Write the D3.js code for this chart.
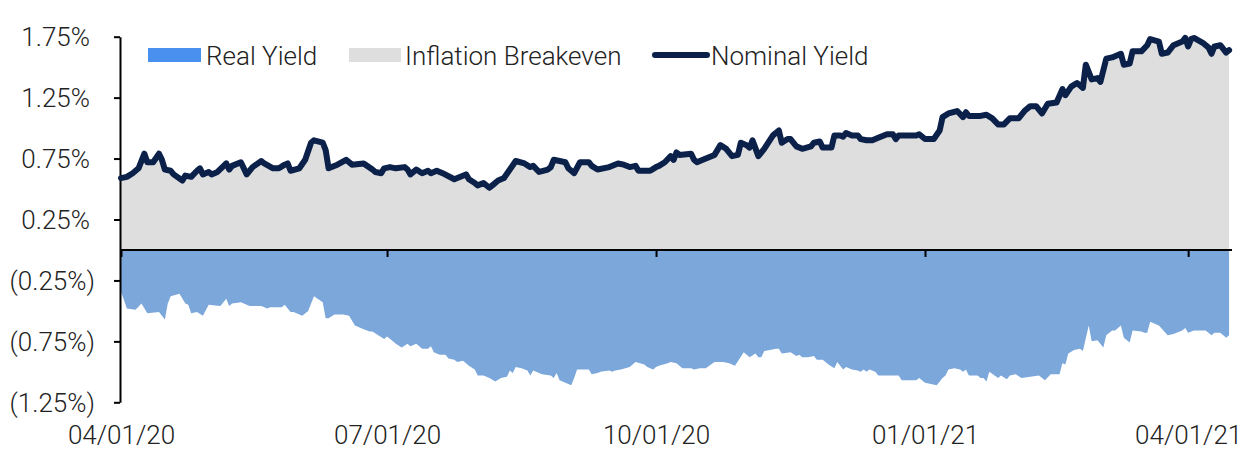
<!DOCTYPE html>
<html>
<head>
<meta charset="utf-8">
<script src="https://cdn.jsdelivr.net/npm/d3@7"></script>
<style>
  html, body { margin: 0; padding: 0; background: #fff; }
  svg { display: block; }
  text { font-family: Roboto, "Open Sans", sans-serif; font-weight: 300; fill: #222; }
</style>
</head>
<body>
<svg id="chart" width="1245" height="449"></svg>
<script>
// ---- data ----
const nominalDates = ["2020-04-01","2020-04-03","2020-04-05","2020-04-07","2020-04-09","2020-04-10","2020-04-12","2020-04-14","2020-04-15","2020-04-16","2020-04-18","2020-04-19","2020-04-22","2020-04-23","2020-04-25","2020-04-27","2020-04-28","2020-04-29","2020-05-01","2020-05-02","2020-05-04","2020-05-07","2020-05-08","2020-05-09","2020-05-12","2020-05-14","2020-05-16","2020-05-19","2020-05-20","2020-05-23","2020-05-25","2020-05-27","2020-05-28","2020-05-29","2020-06-01","2020-06-03","2020-06-05","2020-06-06","2020-06-09","2020-06-10","2020-06-11","2020-06-14","2020-06-17","2020-06-19","2020-06-23","2020-06-26","2020-06-27","2020-06-29","2020-06-30","2020-07-02","2020-07-04","2020-07-07","2020-07-08","2020-07-09","2020-07-11","2020-07-13","2020-07-15","2020-07-16","2020-07-18","2020-07-20","2020-07-24","2020-07-28","2020-07-29","2020-07-31","2020-08-01","2020-08-03","2020-08-05","2020-08-06","2020-08-08","2020-08-10","2020-08-14","2020-08-17","2020-08-19","2020-08-20","2020-08-22","2020-08-25","2020-08-26","2020-08-27","2020-08-29","2020-08-31","2020-09-01","2020-09-03","2020-09-05","2020-09-08","2020-09-09","2020-09-11","2020-09-15","2020-09-18","2020-09-20","2020-09-22","2020-09-24","2020-09-25","2020-09-29","2020-10-01","2020-10-02","2020-10-04","2020-10-06","2020-10-07","2020-10-08","2020-10-09","2020-10-13","2020-10-14","2020-10-15","2020-10-17","2020-10-21","2020-10-23","2020-10-25","2020-10-27","2020-10-29","2020-10-30","2020-11-01","2020-11-02","2020-11-03","2020-11-05","2020-11-07","2020-11-10","2020-11-12","2020-11-13","2020-11-15","2020-11-16","2020-11-18","2020-11-20","2020-11-23","2020-11-24","2020-11-26","2020-11-27","2020-11-30","2020-12-01","2020-12-03","2020-12-04","2020-12-05","2020-12-07","2020-12-09","2020-12-10","2020-12-12","2020-12-14","2020-12-16","2020-12-19","2020-12-21","2020-12-22","2020-12-23","2020-12-29","2020-12-30","2021-01-01","2021-01-04","2021-01-06","2021-01-07","2021-01-09","2021-01-12","2021-01-14","2021-01-15","2021-01-16","2021-01-20","2021-01-22","2021-01-24","2021-01-26","2021-01-28","2021-01-30","2021-02-02","2021-02-04","2021-02-06","2021-02-08","2021-02-10","2021-02-12","2021-02-15","2021-02-17","2021-02-18","2021-02-20","2021-02-22","2021-02-24","2021-02-25","2021-02-27","2021-03-01","2021-03-02","2021-03-04","2021-03-06","2021-03-09","2021-03-10","2021-03-12","2021-03-13","2021-03-16","2021-03-18","2021-03-19","2021-03-22","2021-03-23","2021-03-25","2021-03-27","2021-03-30","2021-03-31","2021-04-01","2021-04-02","2021-04-03","2021-04-06","2021-04-08","2021-04-09","2021-04-10","2021-04-12","2021-04-14","2021-04-15"];
const nominalValues = [0.59,0.60,0.63,0.67,0.79,0.72,0.72,0.79,0.74,0.66,0.65,0.62,0.57,0.61,0.60,0.65,0.67,0.62,0.64,0.62,0.64,0.71,0.66,0.69,0.72,0.62,0.68,0.73,0.71,0.67,0.67,0.70,0.71,0.65,0.67,0.74,0.88,0.90,0.88,0.82,0.67,0.70,0.74,0.70,0.71,0.66,0.64,0.63,0.67,0.68,0.67,0.68,0.66,0.62,0.66,0.63,0.65,0.63,0.65,0.63,0.58,0.62,0.58,0.55,0.53,0.55,0.51,0.53,0.57,0.59,0.73,0.71,0.68,0.69,0.64,0.66,0.68,0.74,0.73,0.72,0.67,0.63,0.72,0.72,0.69,0.66,0.68,0.71,0.70,0.68,0.69,0.65,0.65,0.68,0.69,0.72,0.77,0.74,0.80,0.78,0.79,0.74,0.72,0.74,0.78,0.86,0.83,0.77,0.78,0.88,0.86,0.84,0.90,0.77,0.83,0.94,0.98,0.88,0.91,0.91,0.85,0.83,0.85,0.88,0.89,0.84,0.84,0.94,0.94,0.93,0.96,0.94,0.94,0.91,0.90,0.90,0.92,0.95,0.95,0.91,0.94,0.94,0.95,0.91,0.91,0.98,1.09,1.12,1.14,1.09,1.13,1.10,1.10,1.11,1.08,1.03,1.03,1.08,1.08,1.14,1.18,1.18,1.12,1.20,1.21,1.32,1.27,1.34,1.37,1.33,1.52,1.40,1.41,1.38,1.57,1.58,1.61,1.52,1.53,1.63,1.63,1.68,1.73,1.71,1.61,1.62,1.68,1.71,1.74,1.67,1.73,1.74,1.70,1.66,1.61,1.67,1.68,1.62,1.64];

const realDates = ["2020-04-01","2020-04-03","2020-04-06","2020-04-08","2020-04-10","2020-04-14","2020-04-16","2020-04-17","2020-04-18","2020-04-21","2020-04-23","2020-04-24","2020-04-25","2020-04-27","2020-04-29","2020-05-01","2020-05-05","2020-05-07","2020-05-08","2020-05-09","2020-05-12","2020-05-15","2020-05-19","2020-05-21","2020-05-22","2020-05-26","2020-05-27","2020-05-29","2020-05-30","2020-06-02","2020-06-04","2020-06-06","2020-06-09","2020-06-10","2020-06-11","2020-06-13","2020-06-16","2020-06-18","2020-06-20","2020-06-23","2020-06-25","2020-06-26","2020-06-28","2020-06-30","2020-07-01","2020-07-03","2020-07-04","2020-07-06","2020-07-08","2020-07-09","2020-07-11","2020-07-13","2020-07-15","2020-07-16","2020-07-17","2020-07-19","2020-07-21","2020-07-22","2020-07-24","2020-07-25","2020-07-27","2020-07-29","2020-07-31","2020-08-01","2020-08-03","2020-08-05","2020-08-07","2020-08-09","2020-08-11","2020-08-12","2020-08-13","2020-08-14","2020-08-16","2020-08-18","2020-08-19","2020-08-20","2020-08-21","2020-08-23","2020-08-26","2020-08-27","2020-08-28","2020-08-29","2020-08-30","2020-09-02","2020-09-03","2020-09-04","2020-09-08","2020-09-09","2020-09-11","2020-09-12","2020-09-15","2020-09-16","2020-09-17","2020-09-19","2020-09-22","2020-09-24","2020-09-27","2020-09-28","2020-09-30","2020-10-01","2020-10-02","2020-10-05","2020-10-06","2020-10-08","2020-10-10","2020-10-13","2020-10-14","2020-10-16","2020-10-18","2020-10-21","2020-10-24","2020-10-26","2020-10-28","2020-10-31","2020-11-02","2020-11-04","2020-11-05","2020-11-06","2020-11-07","2020-11-09","2020-11-11","2020-11-12","2020-11-13","2020-11-16","2020-11-18","2020-11-19","2020-11-20","2020-11-22","2020-11-24","2020-11-25","2020-11-27","2020-11-29","2020-12-01","2020-12-02","2020-12-04","2020-12-05","2020-12-07","2020-12-09","2020-12-10","2020-12-11","2020-12-12","2020-12-13","2020-12-15","2020-12-16","2020-12-23","2020-12-24","2020-12-29","2020-12-30","2021-01-01","2021-01-03","2021-01-05","2021-01-07","2021-01-08","2021-01-09","2021-01-11","2021-01-13","2021-01-14","2021-01-15","2021-01-16","2021-01-19","2021-01-20","2021-01-21","2021-01-22","2021-01-23","2021-01-26","2021-01-27","2021-01-29","2021-01-30","2021-02-01","2021-02-03","2021-02-09","2021-02-11","2021-02-13","2021-02-16","2021-02-17","2021-02-18","2021-02-19","2021-02-21","2021-02-23","2021-02-24","2021-02-26","2021-02-27","2021-03-01","2021-03-03","2021-03-04","2021-03-06","2021-03-07","2021-03-09","2021-03-10","2021-03-12","2021-03-13","2021-03-16","2021-03-17","2021-03-18","2021-03-19","2021-03-20","2021-03-22","2021-03-25","2021-03-27","2021-03-30","2021-03-31","2021-04-01","2021-04-03","2021-04-07","2021-04-09","2021-04-10","2021-04-12","2021-04-14","2021-04-15"];
const realValues = [-0.34,-0.48,-0.49,-0.44,-0.52,-0.51,-0.57,-0.44,-0.38,-0.36,-0.44,-0.45,-0.52,-0.51,-0.54,-0.45,-0.46,-0.40,-0.46,-0.44,-0.43,-0.46,-0.46,-0.48,-0.47,-0.47,-0.45,-0.51,-0.51,-0.54,-0.50,-0.38,-0.43,-0.56,-0.56,-0.53,-0.53,-0.54,-0.62,-0.65,-0.67,-0.67,-0.70,-0.73,-0.71,-0.75,-0.77,-0.80,-0.77,-0.79,-0.77,-0.81,-0.81,-0.79,-0.84,-0.86,-0.86,-0.89,-0.90,-0.92,-0.91,-0.95,-0.98,-1.03,-1.03,-1.05,-1.08,-1.05,-1.04,-0.99,-1.01,-0.96,-0.97,-0.99,-1.03,-0.99,-1.00,-1.02,-1.03,-1.05,-1.01,-1.07,-1.08,-1.11,-1.05,-0.98,-0.98,-1.02,-1.01,-1.00,-0.99,-1.00,-0.99,-0.98,-0.96,-0.92,-0.94,-0.96,-0.98,-0.96,-0.95,-0.93,-0.92,-0.93,-0.97,-0.97,-0.98,-0.97,-0.97,-0.92,-0.92,-0.93,-0.95,-0.84,-0.88,-0.85,-0.88,-0.88,-0.83,-0.82,-0.81,-0.81,-0.85,-0.84,-0.87,-0.86,-0.88,-0.88,-0.87,-0.90,-0.90,-0.94,-0.97,-0.92,-0.98,-0.96,-0.98,-0.99,-1.00,-0.98,-1.00,-0.98,-1.00,-1.03,-1.03,-1.07,-1.07,-1.05,-1.09,-1.10,-1.11,-1.05,-1.03,-0.98,-0.97,-0.98,-1.00,-0.98,-1.03,-1.03,-1.05,-1.05,-1.08,-1.00,-1.05,-1.03,-1.06,-1.03,-1.02,-1.05,-1.03,-1.07,-1.02,-1.02,-0.93,-0.94,-0.85,-0.82,-0.81,-0.83,-0.62,-0.75,-0.74,-0.80,-0.70,-0.66,-0.66,-0.62,-0.72,-0.76,-0.66,-0.67,-0.68,-0.68,-0.59,-0.60,-0.62,-0.70,-0.69,-0.66,-0.64,-0.68,-0.66,-0.66,-0.70,-0.68,-0.68,-0.72,-0.70];

const yTickValues = [1.75, 1.25, 0.75, 0.25, -0.25, -0.75, -1.25];
const xTickDates = ["2020-04-01","2020-07-01","2020-10-01","2021-01-01","2021-04-01"];
const xDomainDates = ["2020-04-01","2021-04-16"];
const legendLabels = ["Real Yield", "Inflation Breakeven", "Nominal Yield"];

// ---- drawing ----
const parse = d3.timeParse("%Y-%m-%d");
const nominal = nominalDates.map((d, i) => ({ date: parse(d), value: nominalValues[i] }));
const real = realDates.map((d, i) => ({ date: parse(d), value: realValues[i] }));

const svg = d3.select("#chart");
const x = d3.scaleTime().domain(xDomainDates.map(parse)).range([121, 1232]);
const y = d3.scaleLinear().domain([-1.25, 1.75]).range([402.3, 36.7]);

const colors = { real: "#7ca7db", realLegend: "#4a90ee", breakeven: "#dedede", nominal: "#0b2149" };

// breakeven (grey) area: zero up to nominal
svg.append("path")
  .datum(nominal)
  .attr("fill", colors.breakeven)
  .attr("d", d3.area().x(d => x(d.date)).y0(y(0)).y1(d => y(d.value)));

// real yield area: zero down to real
svg.append("path")
  .datum(real)
  .attr("fill", colors.real)
  .attr("d", d3.area().x(d => x(d.date)).y0(y(0)).y1(d => y(d.value)));

// x axis at zero
const fmt = d3.timeFormat("%m/%d/%y");
const xAxis = svg.append("g")
  .attr("transform", `translate(0,${y(0)})`)
  .call(d3.axisBottom(x).tickValues(xTickDates.map(parse)).tickSize(7).tickSizeOuter(0).tickFormat(fmt));
xAxis.select(".domain").attr("stroke", "#000").attr("stroke-width", 2).attr("d", `M120,0H${x.range()[1]}`);
xAxis.selectAll(".tick line").attr("stroke", "#000").attr("stroke-width", 2);
xAxis.selectAll(".tick text")
  .attr("y", 444.5 - y(0)).attr("dy", null)
  .style("font-size", "26px").style("font-family", "Roboto, sans-serif").style("font-weight", 300).attr("fill", "#222");

// y axis
const yAxis = svg.append("g")
  .attr("transform", "translate(120,0)")
  .call(d3.axisLeft(y).tickValues(yTickValues).tickSize(6).tickSizeOuter(0)
    .tickFormat(v => v < 0 ? `(${d3.format(".2f")(-v)}%)` : `${d3.format(".2f")(v)}%`));
yAxis.select(".domain").attr("stroke", "#000").attr("stroke-width", 2);
yAxis.selectAll(".tick line").attr("stroke", "#000").attr("stroke-width", 2);
yAxis.selectAll(".tick text")
  .attr("x", v => v < 0 ? -25 : -30)
  .attr("dy", "0.35em")
  .style("font-size", "26px").style("font-family", "Roboto, sans-serif").style("font-weight", 300).attr("fill", "#222");

// nominal line
svg.append("path")
  .datum(nominal)
  .attr("fill", "none")
  .attr("stroke", colors.nominal)
  .attr("stroke-width", 6)
  .attr("stroke-linejoin", "round")
  .attr("stroke-linecap", "round")
  .attr("d", d3.line().x(d => x(d.date)).y(d => y(d.value)));

// legend
const lg = svg.append("g");
const legendY = 55;
lg.append("rect").attr("x", 148).attr("y", legendY - 7).attr("width", 53).attr("height", 14).attr("fill", colors.realLegend);
lg.append("text").attr("x", 206).attr("y", legendY + 9.5).style("font-size", "26px").text(legendLabels[0]);
lg.append("rect").attr("x", 349).attr("y", legendY - 7).attr("width", 52).attr("height", 14).attr("fill", colors.breakeven);
lg.append("text").attr("x", 405).attr("y", legendY + 9.5).style("font-size", "26px").text(legendLabels[1]);
lg.append("line").attr("x1", 655).attr("x2", 707).attr("y1", legendY).attr("y2", legendY)
  .attr("stroke", colors.nominal).attr("stroke-width", 6).attr("stroke-linecap", "round");
lg.append("text").attr("x", 711).attr("y", legendY + 9.5).style("font-size", "26px").text(legendLabels[2]);
</script>
</body>
</html>
